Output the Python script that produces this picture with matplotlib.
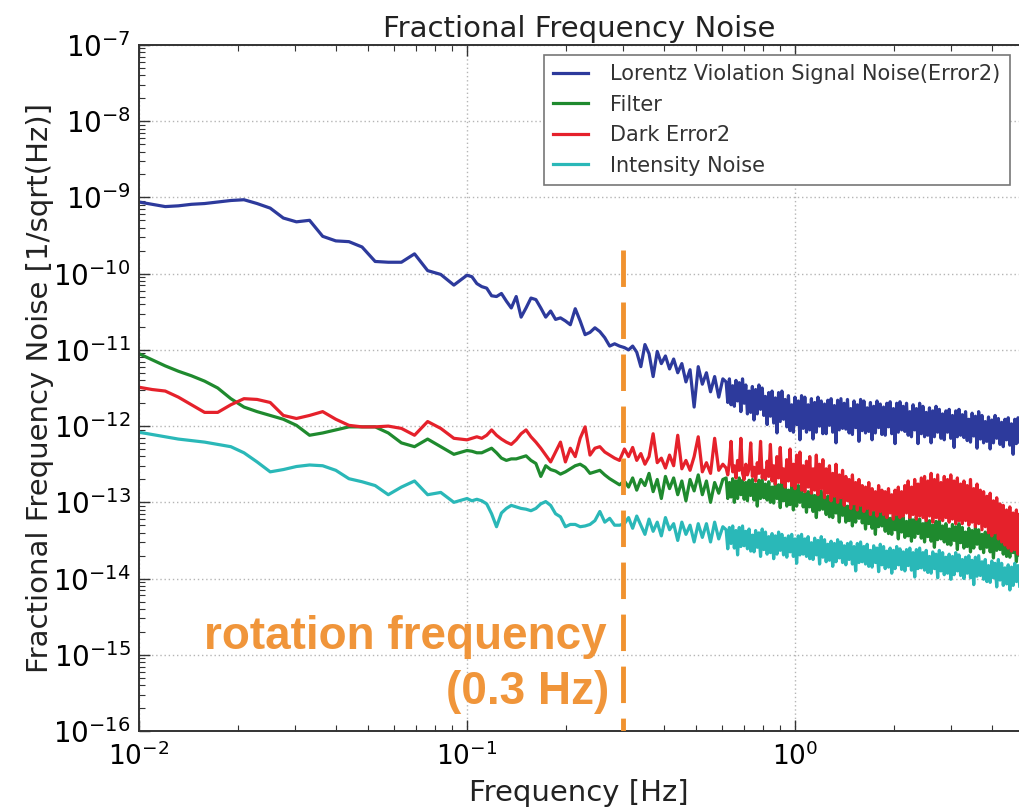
import numpy as np
import matplotlib
matplotlib.use("Agg")
import matplotlib.pyplot as plt
from matplotlib.ticker import FixedLocator, NullFormatter

# ---- frequency bins [Hz] (log10 grid, resolution increasing with frequency) ----
freq_low = 10 ** np.linspace(-2.0, -1.04, 25)
freq_mid = 10 ** np.linspace(-1.0, -0.535, 32)
freq_fine = 10 ** np.linspace(-0.52, -0.22, 25)
freq_dense = 10 ** np.linspace(-0.21, 0.685, 180)

# ---- amplitude spectral densities, stored as log10(1/sqrt(Hz)) ----
lorentz_low = [-9.06, -9.09, -9.12, -9.11, -9.09, -9.08, -9.06, -9.04, -9.03, -9.08,
               -9.14, -9.27, -9.32, -9.30, -9.51, -9.57, -9.58, -9.65, -9.84, -9.85,
               -9.85, -9.74, -9.96, -10.01, -10.15]
lorentz_mid = [-10.02, -10.04, -10.13, -10.17, -10.19, -10.29, -10.30, -10.26, -10.36, -10.45,
               -10.30, -10.57, -10.45, -10.32, -10.34, -10.45, -10.57, -10.49, -10.60, -10.58,
               -10.62, -10.67, -10.46, -10.62, -10.80, -10.77, -10.71, -10.76, -10.84, -10.95,
               -10.92, -10.95]
lorentz_fine = [-10.97, -11.00, -10.95, -11.03, -11.22, -10.93, -11.05, -11.35, -11.02, -11.18,
                -11.08, -11.25, -11.12, -11.30, -11.18, -11.42, -11.26, -11.75, -11.22, -11.45,
                -11.30, -11.55, -11.35, -11.62, -11.38]
lorentz_dense = [
    -11.42, -11.69, -11.38, -11.72, -11.47, -11.74, -11.40, -11.67, -11.43, -11.81, -11.38, -11.70,
    -11.46, -11.84, -11.54, -11.82, -11.48, -11.92, -11.52, -11.84, -11.46, -11.78, -11.50, -11.86,
    -11.61, -11.98, -11.56, -11.87, -11.54, -11.96, -11.63, -12.09, -11.56, -11.94, -11.54, -11.91,
    -11.65, -12.01, -11.60, -12.06, -11.72, -12.08, -11.62, -11.98, -11.67, -12.18, -11.60, -12.03,
    -11.62, -12.08, -11.72, -12.05, -11.64, -12.17, -11.69, -12.08, -11.62, -12.00, -11.67, -12.10,
    -11.71, -12.10, -11.66, -11.99, -11.64, -12.08, -11.73, -12.22, -11.66, -12.05, -11.64, -12.03,
    -11.70, -12.04, -11.65, -12.09, -11.77, -12.11, -11.67, -12.02, -11.72, -12.20, -11.65, -12.06,
    -11.67, -12.09, -11.76, -12.07, -11.69, -12.18, -11.74, -12.09, -11.67, -12.02, -11.71, -12.11,
    -11.75, -12.12, -11.70, -12.01, -11.68, -12.10, -11.77, -12.23, -11.70, -12.08, -11.68, -12.05,
    -11.74, -12.07, -11.70, -12.12, -11.81, -12.14, -11.72, -12.05, -11.77, -12.23, -11.70, -12.10,
    -11.74, -12.14, -11.82, -12.12, -11.76, -12.22, -11.80, -12.14, -11.74, -12.08, -11.78, -12.16,
    -11.84, -12.18, -11.80, -12.08, -11.78, -12.16, -11.86, -12.28, -11.80, -12.14, -11.78, -12.12,
    -11.85, -12.15, -11.81, -12.19, -11.91, -12.21, -11.83, -12.13, -11.87, -12.29, -11.81, -12.17,
    -11.86, -12.22, -11.94, -12.20, -11.88, -12.30, -11.92, -12.22, -11.86, -12.16, -11.90, -12.24,
    -11.95, -12.27, -11.91, -12.18, -11.89, -12.25, -11.97, -12.37, -11.91, -12.23, -11.89, -12.21]

filter_low = [-11.05, -11.13, -11.21, -11.28, -11.34, -11.41, -11.50, -11.64, -11.75, -11.81,
              -11.86, -11.91, -11.99, -12.12, -12.09, -12.05, -12.01, -12.01, -12.01, -12.09,
              -12.22, -12.27, -12.17, -12.27, -12.37]
filter_mid = [-12.32, -12.33, -12.35, -12.35, -12.32, -12.29, -12.35, -12.42, -12.45, -12.43,
              -12.43, -12.41, -12.39, -12.45, -12.49, -12.66, -12.52, -12.57, -12.59, -12.63,
              -12.60, -12.56, -12.52, -12.50, -12.54, -12.62, -12.60, -12.58, -12.64, -12.69,
              -12.73, -12.77]
filter_fine = [-12.72, -12.80, -12.68, -12.84, -12.70, -12.78, -12.62, -12.86, -12.70, -12.95,
               -12.66, -12.82, -12.68, -12.90, -12.72, -12.98, -12.70, -12.85, -12.64, -12.90,
               -12.72, -13.00, -12.74, -12.88, -12.70]
filter_dense = [
    -12.68, -12.95, -12.74, -12.93, -12.69, -13.00, -12.72, -12.95, -12.68, -12.90, -12.71, -12.96,
    -12.74, -12.98, -12.71, -12.91, -12.70, -12.97, -12.76, -13.05, -12.71, -12.95, -12.70, -12.94,
    -12.76, -12.97, -12.73, -13.00, -12.80, -13.01, -12.74, -12.95, -12.77, -13.07, -12.73, -12.98,
    -12.78, -13.05, -12.84, -13.03, -12.79, -13.10, -12.82, -13.05, -12.78, -13.00, -12.81, -13.06,
    -12.89, -13.13, -12.86, -13.06, -12.85, -13.12, -12.91, -13.20, -12.86, -13.10, -12.85, -13.09,
    -12.95, -13.16, -12.92, -13.19, -12.99, -13.20, -12.93, -13.14, -12.96, -13.26, -12.92, -13.17,
    -12.99, -13.26, -13.05, -13.24, -13.00, -13.31, -13.03, -13.26, -12.99, -13.21, -13.02, -13.27,
    -13.11, -13.35, -13.08, -13.28, -13.07, -13.34, -13.13, -13.42, -13.08, -13.32, -13.07, -13.31,
    -13.17, -13.38, -13.14, -13.41, -13.21, -13.42, -13.15, -13.36, -13.18, -13.48, -13.14, -13.39,
    -13.19, -13.46, -13.25, -13.44, -13.20, -13.51, -13.23, -13.46, -13.19, -13.41, -13.22, -13.47,
    -13.28, -13.52, -13.25, -13.45, -13.24, -13.51, -13.30, -13.59, -13.25, -13.49, -13.24, -13.48,
    -13.31, -13.52, -13.28, -13.55, -13.35, -13.56, -13.29, -13.50, -13.32, -13.62, -13.28, -13.53,
    -13.33, -13.60, -13.39, -13.58, -13.34, -13.65, -13.37, -13.60, -13.33, -13.55, -13.36, -13.61,
    -13.42, -13.66, -13.39, -13.59, -13.38, -13.65, -13.44, -13.73, -13.39, -13.63, -13.38, -13.62,
    -13.47, -13.68, -13.44, -13.71, -13.51, -13.72, -13.45, -13.66, -13.48, -13.78, -13.44, -13.69]

dark_low = [-11.49, -11.52, -11.54, -11.62, -11.72, -11.82, -11.82, -11.72, -11.64, -11.65,
            -11.69, -11.86, -11.90, -11.86, -11.81, -11.91, -11.99, -12.01, -12.01, -12.00,
            -12.03, -12.12, -11.94, -12.03, -12.16]
dark_mid = [-12.18, -12.16, -12.14, -12.16, -12.12, -12.05, -12.12, -12.17, -12.21, -12.24,
            -12.18, -12.10, -12.05, -12.14, -12.21, -12.29, -12.38, -12.47, -12.34, -12.21,
            -12.47, -12.29, -12.40, -12.16, -12.01, -12.38, -12.29, -12.27, -12.34, -12.38,
            -12.42, -12.45]
dark_fine = [-12.30, -12.40, -12.28, -12.45, -12.36, -12.50, -12.40, -12.10, -12.48, -12.42,
             -12.55, -12.38, -12.52, -12.12, -12.56, -12.45, -12.58, -12.40, -12.14, -12.60,
             -12.48, -12.62, -12.16, -12.58, -12.50]
dark_dense = [
    -12.55, -12.64, -12.48, -12.20, -12.60, -12.52, -12.68, -12.45, -12.58, -12.16, -12.62, -12.70,
    -12.50, -12.64, -12.56, -12.22, -12.66, -12.54, -12.72, -12.48, -12.62, -12.20, -12.68, -12.58,
    -12.70, -12.46, -12.66, -12.24, -12.72, -12.52, -12.76, -12.40, -12.68, -12.28, -12.74, -12.56,
    -12.80, -12.44, -12.72, -12.30, -12.78, -12.50, -12.82, -12.38, -12.74, -12.34, -12.84, -12.52,
    -12.86, -12.46, -12.80, -12.40, -12.88, -12.56, -12.84, -12.38, -12.90, -12.50, -12.82, -12.44,
    -12.94, -12.56, -12.88, -12.52, -12.98, -12.62, -12.92, -12.50, -13.00, -12.64, -12.94, -12.58,
    -13.04, -12.66, -12.98, -12.70, -13.08, -12.64, -13.02, -12.74, -13.10, -12.70, -13.04, -12.78,
    -13.12, -12.80, -13.08, -12.74, -13.16, -12.82, -13.10, -12.86, -13.18, -12.78, -13.12, -12.84,
    -13.16, -12.86, -13.20, -12.82, -13.14, -12.90, -13.22, -12.84, -13.16, -12.80, -13.20, -12.86,
    -13.18, -12.78, -13.14, -12.72, -13.20, -12.80, -13.16, -12.70, -13.22, -12.76, -13.18, -12.68,
    -13.20, -12.66, -13.24, -12.72, -13.18, -12.62, -13.26, -12.70, -13.20, -12.64, -13.22, -12.74,
    -13.24, -12.66, -13.20, -12.70, -13.26, -12.64, -13.22, -12.72, -13.28, -12.68, -13.24, -12.76,
    -13.28, -12.72, -13.24, -12.78, -13.30, -12.70, -13.26, -12.82, -13.32, -12.76, -13.28, -12.84,
    -13.36, -12.86, -13.32, -12.92, -13.40, -12.88, -13.44, -12.98, -13.40, -12.94, -13.48, -13.02,
    -13.52, -13.04, -13.56, -13.10, -13.60, -13.06, -13.64, -13.14, -13.62, -13.10, -13.68, -13.16]

intensity_low = [-12.08, -12.11, -12.14, -12.17, -12.19, -12.21, -12.24, -12.27, -12.35, -12.47,
                 -12.60, -12.57, -12.53, -12.51, -12.52, -12.58, -12.69, -12.73, -12.78, -12.90,
                 -12.80, -12.72, -12.90, -12.87, -13.00]
intensity_mid = [-12.95, -12.98, -12.96, -12.98, -13.02, -13.15, -13.32, -13.14, -13.08, -13.04,
                 -13.06, -13.08, -13.09, -13.11, -13.08, -13.02, -12.99, -13.04, -13.15, -13.19,
                 -13.32, -13.29, -13.29, -13.32, -13.31, -13.29, -13.24, -13.12, -13.26, -13.21,
                 -13.30, -13.30]
intensity_fine = [-13.28, -13.20, -13.34, -13.18, -13.30, -13.42, -13.22, -13.38, -13.26, -13.44,
                  -13.20, -13.36, -13.28, -13.50, -13.26, -13.42, -13.30, -13.52, -13.28, -13.46,
                  -13.28, -13.52, -13.26, -13.48, -13.32]
intensity_dense = [
    -13.36, -13.61, -13.33, -13.54, -13.31, -13.60, -13.37, -13.69, -13.33, -13.58, -13.31, -13.57,
    -13.38, -13.61, -13.35, -13.64, -13.43, -13.65, -13.37, -13.59, -13.40, -13.71, -13.35, -13.62,
    -13.39, -13.68, -13.45, -13.66, -13.41, -13.74, -13.44, -13.68, -13.39, -13.63, -13.42, -13.69,
    -13.47, -13.72, -13.44, -13.65, -13.42, -13.71, -13.48, -13.80, -13.44, -13.69, -13.42, -13.68,
    -13.48, -13.71, -13.45, -13.74, -13.53, -13.75, -13.47, -13.69, -13.50, -13.81, -13.45, -13.72,
    -13.49, -13.78, -13.55, -13.76, -13.51, -13.84, -13.54, -13.78, -13.49, -13.73, -13.52, -13.79,
    -13.57, -13.82, -13.54, -13.75, -13.52, -13.81, -13.58, -13.90, -13.54, -13.79, -13.52, -13.78,
    -13.58, -13.81, -13.55, -13.84, -13.63, -13.85, -13.57, -13.79, -13.60, -13.91, -13.55, -13.82,
    -13.58, -13.87, -13.64, -13.85, -13.60, -13.93, -13.63, -13.87, -13.58, -13.82, -13.61, -13.88,
    -13.65, -13.90, -13.62, -13.83, -13.60, -13.89, -13.66, -13.98, -13.62, -13.87, -13.60, -13.86,
    -13.66, -13.89, -13.63, -13.92, -13.71, -13.93, -13.65, -13.87, -13.68, -13.99, -13.63, -13.90,
    -13.66, -13.95, -13.72, -13.93, -13.68, -14.01, -13.71, -13.95, -13.66, -13.90, -13.69, -13.96,
    -13.75, -14.00, -13.72, -13.93, -13.70, -13.99, -13.76, -14.08, -13.72, -13.97, -13.70, -13.96,
    -13.78, -14.01, -13.75, -14.04, -13.83, -14.05, -13.77, -13.99, -13.80, -14.11, -13.75, -14.02,
    -13.80, -14.09, -13.86, -14.07, -13.82, -14.15, -13.85, -14.09, -13.80, -14.04, -13.83, -14.10]

series_labels = ["Lorentz Violation Signal Noise(Error2)", "Filter", "Dark Error2", "Intensity Noise"]
series_colors = ["#2d3a9c", "#1f8a2e", "#e5212b", "#2ab8b8"]
rotation_freq = 0.3  # Hz
x_decades = [-2, -1, 0]
y_decades = list(range(-16, -6))

freq = np.concatenate([freq_low, freq_mid, freq_fine, freq_dense])
series = [
    lorentz_low + lorentz_mid + lorentz_fine + lorentz_dense,
    filter_low + filter_mid + filter_fine + filter_dense,
    dark_low + dark_mid + dark_fine + dark_dense,
    intensity_low + intensity_mid + intensity_fine + intensity_dense,
]

narrow = ["DejaVu Sans Condensed", "Liberation Sans Narrow", "DejaVu Sans"]

fig = plt.figure(figsize=(10.19, 8.1), dpi=100)
ax = fig.add_axes([139 / 1019, 79 / 810, 880 / 1019, 686 / 810])

for vals, lab, col in zip(series, series_labels, series_colors):
    ax.plot(freq, 10 ** np.asarray(vals), color=col, lw=2.3, label=lab)

ax.set_xscale("log")
ax.set_yscale("log")
xmax = 10 ** (880 / 328 - 2)
ax.set_xlim(0.01, xmax)
ax.set_ylim(1e-16, 1e-7)

# decade ticks and 2..9 minor ticks, restricted to the visible range
x_major = [10.0 ** d for d in x_decades]
x_minor = [m * 10.0 ** d for d in x_decades for m in range(2, 10) if m * 10.0 ** d <= xmax]
y_major = [10.0 ** d for d in y_decades]
y_minor = [m * 10.0 ** d for d in y_decades[:-1] for m in range(2, 10)]
ax.xaxis.set_major_locator(FixedLocator(x_major))
ax.xaxis.set_minor_locator(FixedLocator(x_minor))
ax.yaxis.set_major_locator(FixedLocator(y_major))
ax.yaxis.set_minor_locator(FixedLocator(y_minor))
ax.xaxis.set_minor_formatter(NullFormatter())
ax.yaxis.set_minor_formatter(NullFormatter())

ax.grid(True, which="major", linestyle=(0, (1, 2)), color="#b5b5b5", lw=1.0)
ax.tick_params(which="both", direction="in", top=True, right=False, color="#333333")
ax.tick_params(which="major", length=8, width=1.0)
ax.tick_params(which="minor", length=4, width=0.8)
ax.tick_params(axis="y", labelsize=20, pad=6)
ax.tick_params(axis="x", labelsize=19, pad=8)
ax.spines["right"].set_visible(False)
for s in ("left", "bottom", "top"):
    ax.spines[s].set_color("#333333")
    ax.spines[s].set_linewidth(1.4)

ax.set_title("Fractional Frequency Noise", fontsize=21, family=narrow, color="#222222", pad=6)
ax.set_xlabel("Frequency [Hz]", fontsize=21, family=narrow, color="#222222", labelpad=6)
ax.set_ylabel("Fractional Frequency Noise [1/sqrt(Hz)]", fontsize=21, family=narrow, color="#222222")
ax.yaxis.set_label_coords(-0.097, 0.5)

# rotation frequency marker
ax.plot([rotation_freq, rotation_freq], [2.05e-10, 1e-16], color="#f0922f", lw=3.5,
        linestyle=(0, (7.5, 3.2)), zorder=5)
ax.annotate("rotation frequency", xy=(rotation_freq, 1.7e-15), xytext=(-12, 0),
            textcoords="offset points", ha="right", va="center", fontsize=33,
            fontweight="bold", family="Liberation Sans", color="#f0953a")
ax.annotate("(0.3 Hz)", xy=(rotation_freq, 3.2e-16), xytext=(-10, 0),
            textcoords="offset points", ha="right", va="center", fontsize=33,
            fontweight="bold", family="Liberation Sans", color="#f0953a")

leg = ax.legend(loc="upper right", bbox_to_anchor=((1010 - 139) / 880, (731 - 55) / 686),
                borderaxespad=0, fontsize=15, frameon=True, fancybox=False,
                edgecolor="#777777", framealpha=1.0, handlelength=1.7, handletextpad=1.05,
                labelspacing=0.5, borderpad=0.45)
leg.get_frame().set_linewidth(1.2)
for t in leg.get_texts():
    t.set_color("#333333")

fig.savefig("out.png", dpi=100)
